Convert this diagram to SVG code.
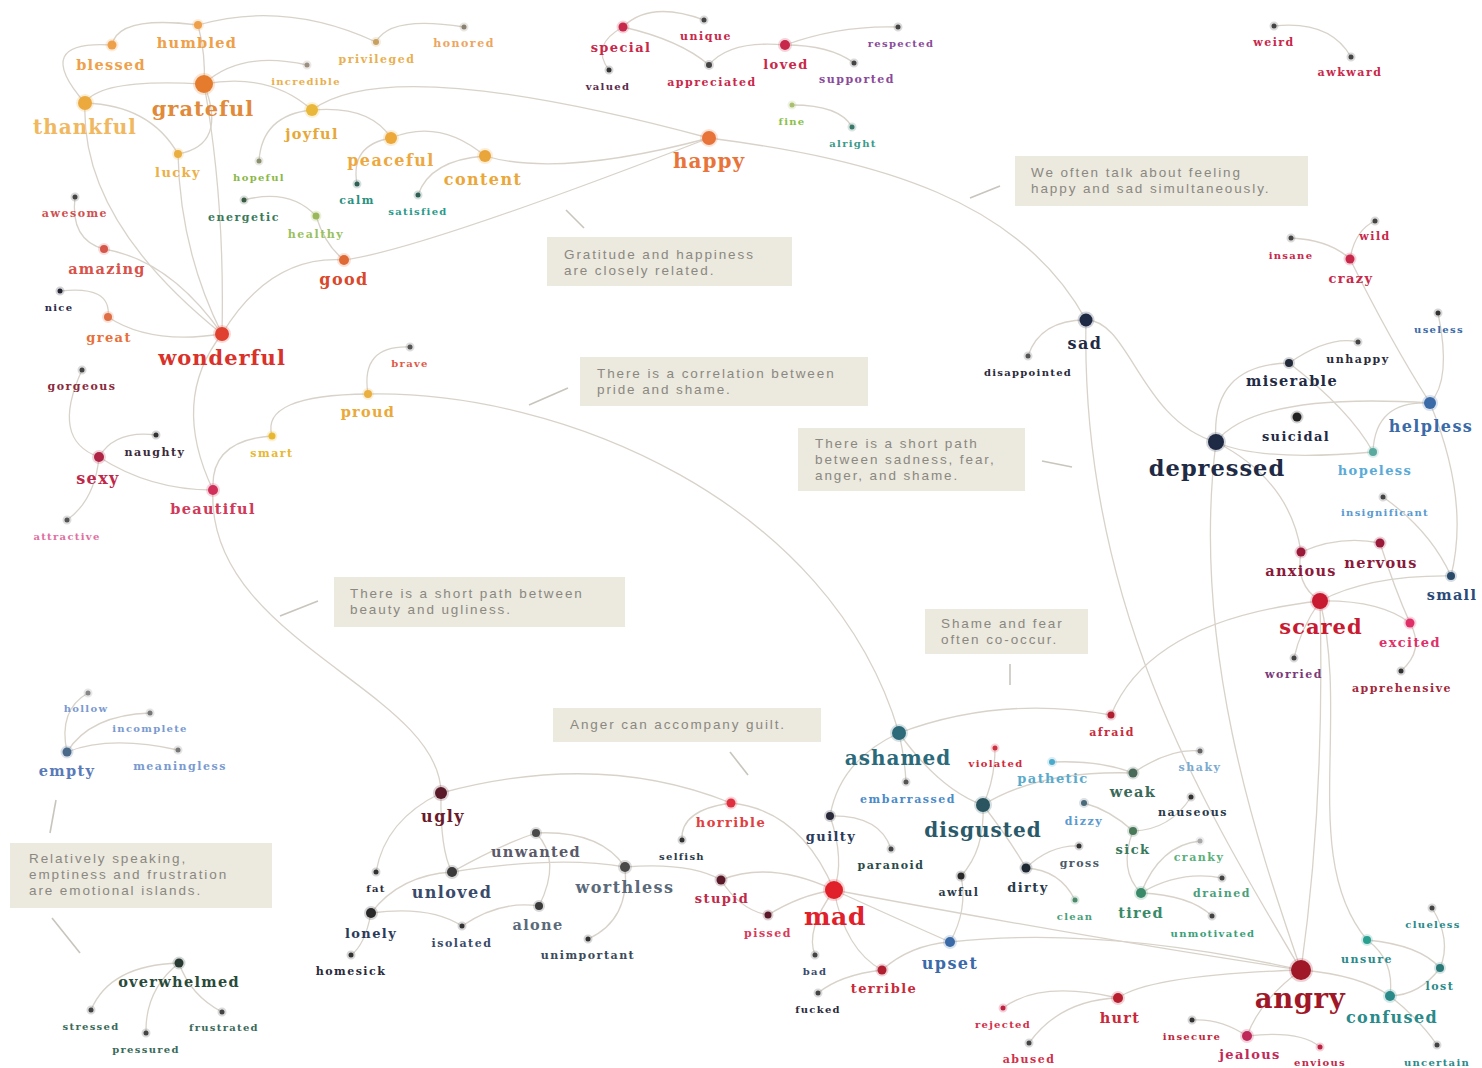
<svg xmlns="http://www.w3.org/2000/svg" width="1482" height="1068" viewBox="0 0 1482 1068">
<style>
.bg{fill:#ffffff}
#edges path{fill:none;stroke:#d8d2c9;stroke-width:1.3}
.lead{stroke:#c9c5bd;stroke-width:1.6;fill:none}
.d{fill:currentColor;stroke:currentColor;stroke-opacity:.2;stroke-width:4}
text{font-family:"DejaVu Serif","Liberation Serif",serif;font-weight:bold;text-anchor:middle}
.t{font-size:10px;letter-spacing:1.3px}
.s{font-size:11px;letter-spacing:1.5px}
.m{font-size:13px;letter-spacing:1.4px}
.k{font-size:14.5px;letter-spacing:1.3px}
.L{font-size:16px;letter-spacing:1.4px}
.X{font-size:20px;letter-spacing:1px}
.XX{font-size:25px;letter-spacing:.6px}
.note rect{fill:#ece9df}
.note text{font-family:"Liberation Sans","Open Sans",sans-serif;font-weight:normal;font-size:13.5px;letter-spacing:1.9px;fill:#8a8880;text-anchor:start}
</style>
<rect class="bg" x="0" y="0" width="1482" height="1068"/>
<g id="edges">
<path d="M112,45 Q118,15 198,25"/>
<path d="M112,45 Q30,40 85,103"/>
<path d="M198,25 Q206,55 204,84"/>
<path d="M198,25 Q285,0 376,42"/>
<path d="M376,42 Q390,15 464,27"/>
<path d="M204,84 Q240,50 307,65"/>
<path d="M85,103 Q100,78 204,84"/>
<path d="M204,84 Q228,145 178,154"/>
<path d="M85,103 Q150,105 178,154"/>
<path d="M204,84 Q270,72 312,110"/>
<path d="M312,110 Q390,52 709,138"/>
<path d="M312,110 Q262,115 259,161"/>
<path d="M312,110 Q370,105 391,138"/>
<path d="M391,138 Q440,118 485,156"/>
<path d="M391,138 Q350,145 357,184"/>
<path d="M485,156 Q430,160 418,195"/>
<path d="M485,156 Q560,178 709,138"/>
<path d="M344,260 Q420,250 709,138"/>
<path d="M244,200 Q290,188 316,216"/>
<path d="M316,216 Q325,245 344,260"/>
<path d="M344,260 Q270,255 222,334"/>
<path d="M85,103 Q80,220 222,334"/>
<path d="M178,154 Q180,250 222,334"/>
<path d="M204,84 Q225,200 222,334"/>
<path d="M75,197 Q70,240 104,249"/>
<path d="M104,249 Q170,260 222,334"/>
<path d="M60,291 Q112,285 108,317"/>
<path d="M108,317 Q150,345 222,334"/>
<path d="M222,334 Q170,400 213,490"/>
<path d="M82,370 Q50,440 99,457"/>
<path d="M99,457 Q115,430 156,435"/>
<path d="M99,457 Q150,490 213,490"/>
<path d="M99,457 Q95,500 67,520"/>
<path d="M213,490 Q210,440 272,436"/>
<path d="M272,436 Q260,395 368,394"/>
<path d="M368,394 Q360,345 410,347"/>
<path d="M368,394 C560,390 830,500 899,733"/>
<path d="M213,490 C205,640 440,690 441,793"/>
<path d="M623,27 Q650,0 704,20"/>
<path d="M623,27 Q590,45 609,70"/>
<path d="M623,27 Q680,40 709,65"/>
<path d="M709,65 Q730,40 785,45"/>
<path d="M785,45 Q840,25 898,27"/>
<path d="M785,45 Q830,45 854,63"/>
<path d="M792,105 Q840,105 852,127"/>
<path d="M709,138 C880,160 1020,200 1086,320"/>
<path d="M1274,26 Q1330,20 1351,57"/>
<path d="M1291,238 Q1330,240 1350,259"/>
<path d="M1375,221 Q1355,230 1350,259"/>
<path d="M1350,259 Q1390,340 1430,403"/>
<path d="M1086,320 Q1040,320 1028,356"/>
<path d="M1086,320 C1130,320 1140,420 1216,442"/>
<path d="M1086,320 C1080,600 1200,800 1301,970"/>
<path d="M1216,442 Q1210,365 1289,363"/>
<path d="M1289,363 Q1330,335 1358,342"/>
<path d="M1289,363 Q1350,410 1373,452"/>
<path d="M1216,442 Q1255,392 1430,403"/>
<path d="M1216,442 Q1260,462 1373,452"/>
<path d="M1438,313 Q1452,380 1430,403"/>
<path d="M1430,403 Q1375,400 1373,452"/>
<path d="M1430,403 Q1470,500 1451,576"/>
<path d="M1383,497 Q1430,530 1451,576"/>
<path d="M1216,442 Q1290,480 1301,552"/>
<path d="M1216,442 C1190,650 1260,850 1301,970"/>
<path d="M1301,552 Q1340,535 1380,543"/>
<path d="M1301,552 Q1295,585 1320,601"/>
<path d="M1380,543 Q1395,590 1410,623"/>
<path d="M1320,601 Q1370,575 1451,576"/>
<path d="M1320,601 Q1380,600 1410,623"/>
<path d="M1320,601 Q1300,630 1294,658"/>
<path d="M1410,623 Q1425,650 1401,671"/>
<path d="M1320,601 Q1150,620 1111,715"/>
<path d="M1320,601 Q1325,800 1301,970"/>
<path d="M1320,601 C1350,720 1300,860 1367,940"/>
<path d="M1367,940 Q1420,945 1440,968"/>
<path d="M1432,908 Q1452,940 1440,968"/>
<path d="M1440,968 Q1420,995 1390,996"/>
<path d="M1367,940 Q1395,960 1390,996"/>
<path d="M1301,970 Q1360,975 1390,996"/>
<path d="M1390,996 Q1420,1020 1437,1045"/>
<path d="M1301,970 Q1150,975 1118,998"/>
<path d="M1118,998 Q1040,980 1003,1008"/>
<path d="M1118,998 Q1060,1000 1029,1043"/>
<path d="M1301,970 Q1260,1000 1247,1036"/>
<path d="M1247,1036 Q1220,1018 1192,1020"/>
<path d="M1247,1036 Q1300,1030 1320,1047"/>
<path d="M834,890 Q1100,940 1301,970"/>
<path d="M950,942 Q1100,925 1301,970"/>
<path d="M441,793 Q385,820 376,872"/>
<path d="M441,793 Q440,850 452,872"/>
<path d="M441,793 Q600,750 731,803"/>
<path d="M452,872 Q400,875 371,913"/>
<path d="M452,872 Q500,845 536,833"/>
<path d="M452,872 Q560,855 625,867"/>
<path d="M371,913 Q365,945 351,955"/>
<path d="M371,913 Q430,905 462,926"/>
<path d="M462,926 Q500,900 539,906"/>
<path d="M539,906 Q562,860 536,833"/>
<path d="M536,833 Q600,830 625,867"/>
<path d="M625,867 Q630,920 588,939"/>
<path d="M625,867 Q690,862 721,880"/>
<path d="M721,880 Q770,860 834,890"/>
<path d="M721,880 Q740,910 768,915"/>
<path d="M768,915 Q800,895 834,890"/>
<path d="M731,803 Q680,810 682,840"/>
<path d="M731,803 Q800,810 834,890"/>
<path d="M830,816 Q845,860 834,890"/>
<path d="M830,816 Q880,815 891,849"/>
<path d="M830,816 Q840,760 899,733"/>
<path d="M834,890 Q805,930 815,955"/>
<path d="M834,890 Q845,950 882,970"/>
<path d="M834,890 Q900,920 950,942"/>
<path d="M882,970 Q840,975 818,993"/>
<path d="M882,970 Q910,945 950,942"/>
<path d="M950,942 Q968,910 961,876"/>
<path d="M961,876 Q985,850 983,805"/>
<path d="M899,733 Q905,760 906,782"/>
<path d="M899,733 Q940,790 983,805"/>
<path d="M899,733 Q1000,695 1111,715"/>
<path d="M995,748 Q995,780 983,805"/>
<path d="M1052,762 Q1100,760 1133,773"/>
<path d="M1133,773 Q1170,748 1200,751"/>
<path d="M1133,773 Q1040,770 983,805"/>
<path d="M1084,803 Q1110,810 1133,831"/>
<path d="M1133,831 Q1170,830 1191,797"/>
<path d="M1133,831 Q1118,870 1141,893"/>
<path d="M983,805 Q1010,840 1026,868"/>
<path d="M1026,868 Q1050,845 1079,846"/>
<path d="M1026,868 Q1060,870 1075,900"/>
<path d="M1141,893 Q1160,845 1200,841"/>
<path d="M1141,893 Q1180,870 1222,878"/>
<path d="M1141,893 Q1190,895 1212,916"/>
<path d="M67,752 Q58,710 88,693"/>
<path d="M67,752 Q90,715 150,713"/>
<path d="M67,752 Q110,735 178,750"/>
<path d="M179,963 Q110,965 91,1010"/>
<path d="M179,963 Q145,990 146,1033"/>
<path d="M179,963 Q190,995 222,1012"/>
</g>
<g id="notes">
<g class="note" id="note-gratitude"><line class="lead" x1="566" y1="210" x2="584" y2="228"/><rect x="547" y="237" width="245" height="49"/><text x="564" y="259">Gratitude and happiness</text><text x="564" y="275">are closely related.</text></g>
<g class="note" id="note-happysad"><line class="lead" x1="970" y1="198" x2="1000" y2="186"/><rect x="1015" y="156" width="293" height="50"/><text x="1031" y="177">We often talk about feeling</text><text x="1031" y="193">happy and sad simultaneously.</text></g>
<g class="note" id="note-pride"><line class="lead" x1="529" y1="405" x2="568" y2="388"/><rect x="580" y="357" width="288" height="49"/><text x="597" y="378">There is a correlation between</text><text x="597" y="394">pride and shame.</text></g>
<g class="note" id="note-path"><line class="lead" x1="1042" y1="461" x2="1072" y2="467"/><rect x="798" y="428" width="227" height="63"/><text x="815" y="448">There is a short path</text><text x="815" y="464">between sadness, fear,</text><text x="815" y="480">anger, and shame.</text></g>
<g class="note" id="note-beauty"><line class="lead" x1="280" y1="616" x2="318" y2="601"/><rect x="334" y="577" width="291" height="50"/><text x="350" y="598">There is a short path between</text><text x="350" y="614">beauty and ugliness.</text></g>
<g class="note" id="note-shamefear"><line class="lead" x1="1010" y1="664" x2="1010" y2="685"/><rect x="925" y="609" width="163" height="45"/><text x="941" y="628">Shame and fear</text><text x="941" y="644">often co-occur.</text></g>
<g class="note" id="note-anger"><line class="lead" x1="730" y1="752" x2="748" y2="775"/><rect x="553" y="708" width="268" height="34"/><text x="570" y="729">Anger can accompany guilt.</text></g>
<g class="note" id="note-islands"><line class="lead" x1="56" y1="800" x2="50" y2="833"/><line class="lead" x1="52" y1="918" x2="80" y2="953"/><rect x="10" y="843" width="262" height="65"/><text x="29" y="863">Relatively speaking,</text><text x="29" y="879">emptiness and frustration</text><text x="29" y="895">are emotional islands.</text></g>
</g>
<g id="nodes">
<g id="n-humbled"><circle class="d" color="#eea04a" cx="198" cy="25" r="4"/><text class="k" x="197" y="48" fill="#eea04a">humbled</text></g>
<g id="n-blessed"><circle class="d" color="#eea04a" cx="112" cy="45" r="4.5"/><text class="k" x="111" y="70" fill="#eea04a">blessed</text></g>
<g id="n-privileged"><circle class="d" color="#c8a060" cx="376" cy="42" r="3"/><text class="s" x="377" y="63" fill="#e9b050">privileged</text></g>
<g id="n-honored"><circle class="d" color="#8a8070" cx="464" cy="27" r="2.5"/><text class="s" x="464" y="47" fill="#eda560">honored</text></g>
<g id="n-incredible"><circle class="d" color="#9a9080" cx="307" cy="65" r="2.5"/><text class="t" x="306" y="85" fill="#e9b050">incredible</text></g>
<g id="n-grateful"><circle class="d" color="#e57b2d" cx="204" cy="84" r="9"/><text class="X" x="203" y="116" fill="#e08a3a" style="font-size:21px">grateful</text></g>
<g id="n-thankful"><circle class="d" color="#ecaa3e" cx="85" cy="103" r="7"/><text class="X" x="85" y="134" fill="#f0b860">thankful</text></g>
<g id="n-lucky"><circle class="d" color="#e9b040" cx="178" cy="154" r="4"/><text class="m" x="178" y="177" fill="#ecb048">lucky</text></g>
<g id="n-joyful"><circle class="d" color="#e9b83a" cx="312" cy="110" r="6"/><text class="k" x="312" y="139" fill="#e6a838">joyful</text></g>
<g id="n-hopeful"><circle class="d" color="#8a9070" cx="259" cy="161" r="2.5"/><text class="t" x="259" y="181" fill="#8ab848">hopeful</text></g>
<g id="n-peaceful"><circle class="d" color="#eda83a" cx="391" cy="138" r="6"/><text class="L" x="391" y="166" fill="#eda840">peaceful</text></g>
<g id="n-content"><circle class="d" color="#e9a63a" cx="485" cy="156" r="6"/><text class="L" x="483" y="185" fill="#eaa73a">content</text></g>
<g id="n-calm"><circle class="d" color="#2f5f55" cx="357" cy="184" r="2.5"/><text class="s" x="357" y="204" fill="#2a9080">calm</text></g>
<g id="n-satisfied"><circle class="d" color="#2f5f55" cx="418" cy="195" r="2.5"/><text class="t" x="418" y="215" fill="#2a9a8a">satisfied</text></g>
<g id="n-energetic"><circle class="d" color="#3a5a44" cx="244" cy="200" r="2.5"/><text class="s" x="244" y="221" fill="#3a7a5a">energetic</text></g>
<g id="n-healthy"><circle class="d" color="#9ab85a" cx="316" cy="216" r="3.5"/><text class="s" x="316" y="238" fill="#9ac060">healthy</text></g>
<g id="n-good"><circle class="d" color="#e06a35" cx="344" cy="260" r="5"/><text class="L" x="344" y="285" fill="#d9482a">good</text></g>
<g id="n-awesome"><circle class="d" color="#444444" cx="75" cy="197" r="2.5"/><text class="s" x="75" y="217" fill="#d05050">awesome</text></g>
<g id="n-amazing"><circle class="d" color="#d8574a" cx="104" cy="249" r="4"/><text class="k" x="107" y="274" fill="#d8524a">amazing</text></g>
<g id="n-nice"><circle class="d" color="#222233" cx="60" cy="291" r="2.5"/><text class="t" x="59" y="311" fill="#2a2a4a">nice</text></g>
<g id="n-great"><circle class="d" color="#e07045" cx="108" cy="317" r="4"/><text class="m" x="109" y="342" fill="#e8703a">great</text></g>
<g id="n-wonderful"><circle class="d" color="#e0402f" cx="222" cy="334" r="7"/><text class="X" x="222" y="365" fill="#d8322a" style="font-size:21px">wonderful</text></g>
<g id="n-gorgeous"><circle class="d" color="#444444" cx="82" cy="370" r="2.5"/><text class="s" x="82" y="390" fill="#8a2a3a">gorgeous</text></g>
<g id="n-naughty"><circle class="d" color="#333333" cx="156" cy="435" r="2.5"/><text class="s" x="155" y="456" fill="#3a2a3a">naughty</text></g>
<g id="n-sexy"><circle class="d" color="#b02545" cx="99" cy="457" r="5"/><text class="L" x="98" y="484" fill="#c0284a">sexy</text></g>
<g id="n-beautiful"><circle class="d" color="#d0305a" cx="213" cy="490" r="5"/><text class="k" x="213" y="514" fill="#d03a5a">beautiful</text></g>
<g id="n-attractive"><circle class="d" color="#555555" cx="67" cy="520" r="2.5"/><text class="t" x="67" y="540" fill="#e070a0">attractive</text></g>
<g id="n-brave"><circle class="d" color="#555555" cx="410" cy="347" r="2.5"/><text class="t" x="410" y="367" fill="#e05a4a">brave</text></g>
<g id="n-proud"><circle class="d" color="#eab040" cx="368" cy="394" r="4"/><text class="k" x="368" y="417" fill="#eaaa3a">proud</text></g>
<g id="n-smart"><circle class="d" color="#e8b830" cx="272" cy="436" r="3.5"/><text class="s" x="272" y="457" fill="#e8b830">smart</text></g>
<g id="n-special"><circle class="d" color="#c8284a" cx="623" cy="27" r="4.5"/><text class="m" x="621" y="52" fill="#c8284a">special</text></g>
<g id="n-unique"><circle class="d" color="#444444" cx="704" cy="20" r="2.5"/><text class="s" x="706" y="40" fill="#c8284a">unique</text></g>
<g id="n-valued"><circle class="d" color="#333333" cx="609" cy="70" r="2.5"/><text class="t" x="608" y="90" fill="#5a2a4a">valued</text></g>
<g id="n-appreciated"><circle class="d" color="#444444" cx="709" cy="65" r="3"/><text class="s" x="712" y="86" fill="#c8284a">appreciated</text></g>
<g id="n-loved"><circle class="d" color="#c8284a" cx="785" cy="45" r="5"/><text class="m" x="786" y="69" fill="#c8284a">loved</text></g>
<g id="n-respected"><circle class="d" color="#444444" cx="898" cy="27" r="2.5"/><text class="t" x="901" y="47" fill="#8a4a9a">respected</text></g>
<g id="n-supported"><circle class="d" color="#444444" cx="854" cy="63" r="2.5"/><text class="s" x="857" y="83" fill="#8a4a9a">supported</text></g>
<g id="n-fine"><circle class="d" color="#aac070" cx="792" cy="105" r="2.5"/><text class="t" x="792" y="125" fill="#8cc04a">fine</text></g>
<g id="n-alright"><circle class="d" color="#3a7a6a" cx="852" cy="127" r="2.5"/><text class="t" x="853" y="147" fill="#3a9a8a">alright</text></g>
<g id="n-happy"><circle class="d" color="#e8743a" cx="709" cy="138" r="7"/><text class="X" x="709" y="168" fill="#e8743a">happy</text></g>
<g id="n-weird"><circle class="d" color="#444444" cx="1274" cy="26" r="2.5"/><text class="s" x="1274" y="46" fill="#c8284a">weird</text></g>
<g id="n-awkward"><circle class="d" color="#444444" cx="1351" cy="57" r="2.5"/><text class="s" x="1350" y="76" fill="#c8284a">awkward</text></g>
<g id="n-insane"><circle class="d" color="#444444" cx="1291" cy="238" r="2.5"/><text class="t" x="1291" y="259" fill="#c8284a">insane</text></g>
<g id="n-wild"><circle class="d" color="#444444" cx="1375" cy="221" r="2.5"/><text class="s" x="1375" y="240" fill="#c8284a">wild</text></g>
<g id="n-crazy"><circle class="d" color="#c8284a" cx="1350" cy="259" r="4.5"/><text class="m" x="1351" y="283" fill="#c8284a">crazy</text></g>
<g id="n-sad"><circle class="d" color="#1f2a44" cx="1086" cy="320" r="6.5"/><text class="L" x="1085" y="349" fill="#1f2a44">sad</text></g>
<g id="n-disappointed"><circle class="d" color="#555555" cx="1028" cy="356" r="2.5"/><text class="t" x="1028" y="376" fill="#2a2a3a">disappointed</text></g>
<g id="n-miserable"><circle class="d" color="#222a3a" cx="1289" cy="363" r="4"/><text class="k" x="1292" y="386" fill="#1f2a44">miserable</text></g>
<g id="n-unhappy"><circle class="d" color="#444444" cx="1358" cy="342" r="2.5"/><text class="s" x="1358" y="363" fill="#2a2a3a">unhappy</text></g>
<g id="n-useless"><circle class="d" color="#333333" cx="1438" cy="313" r="2.5"/><text class="t" x="1439" y="333" fill="#3a6aa8">useless</text></g>
<g id="n-helpless"><circle class="d" color="#3a6aa8" cx="1430" cy="403" r="6"/><text class="L" x="1431" y="432" fill="#3a6aa8">helpless</text></g>
<g id="n-suicidal"><circle class="d" color="#222222" cx="1297" cy="417" r="4.5"/><text class="m" x="1296" y="441" fill="#1f2a44">suicidal</text></g>
<g id="n-depressed"><circle class="d" color="#1f2a44" cx="1216" cy="442" r="8"/><text class="X" x="1217" y="476" fill="#1f2a44" style="font-size:22.5px">depressed</text></g>
<g id="n-hopeless"><circle class="d" color="#5aaaa0" cx="1373" cy="452" r="4"/><text class="m" x="1375" y="475" fill="#5aaad8">hopeless</text></g>
<g id="n-insignificant"><circle class="d" color="#444444" cx="1383" cy="497" r="2.5"/><text class="t" x="1385" y="516" fill="#5a9ad0">insignificant</text></g>
<g id="n-anxious"><circle class="d" color="#9a1a3a" cx="1301" cy="552" r="4.5"/><text class="k" x="1301" y="576" fill="#8a1a3a">anxious</text></g>
<g id="n-nervous"><circle class="d" color="#9a1a3a" cx="1380" cy="543" r="4.5"/><text class="k" x="1381" y="568" fill="#8a1a3a">nervous</text></g>
<g id="n-small"><circle class="d" color="#2a4a6a" cx="1451" cy="576" r="4"/><text class="k" x="1452" y="600" fill="#2a4a7a">small</text></g>
<g id="n-scared"><circle class="d" color="#c81a30" cx="1320" cy="601" r="8"/><text class="X" x="1321" y="634" fill="#c81a30" style="font-size:21px">scared</text></g>
<g id="n-excited"><circle class="d" color="#e0306a" cx="1410" cy="623" r="4.5"/><text class="m" x="1410" y="647" fill="#e0306a">excited</text></g>
<g id="n-worried"><circle class="d" color="#444444" cx="1294" cy="658" r="2.5"/><text class="s" x="1294" y="678" fill="#7a3a7a">worried</text></g>
<g id="n-apprehensive"><circle class="d" color="#333333" cx="1401" cy="671" r="2.5"/><text class="s" x="1402" y="692" fill="#a0283a">apprehensive</text></g>
<g id="n-hollow"><circle class="d" color="#888888" cx="88" cy="693" r="2.5"/><text class="t" x="86" y="712" fill="#7a9ad0">hollow</text></g>
<g id="n-incomplete"><circle class="d" color="#777777" cx="150" cy="713" r="2.5"/><text class="t" x="150" y="732" fill="#7a9ad0">incomplete</text></g>
<g id="n-empty"><circle class="d" color="#4a6a8a" cx="67" cy="752" r="4.5"/><text class="k" x="67" y="776" fill="#5a7ab8">empty</text></g>
<g id="n-meaningless"><circle class="d" color="#777777" cx="178" cy="750" r="2.5"/><text class="s" x="180" y="770" fill="#7a9ad0">meaningless</text></g>
<g id="n-overwhelmed"><circle class="d" color="#2a3a34" cx="179" cy="963" r="4.5"/><text class="k" x="179" y="987" fill="#2a4a3a">overwhelmed</text></g>
<g id="n-stressed"><circle class="d" color="#444444" cx="91" cy="1010" r="2.5"/><text class="t" x="91" y="1030" fill="#3a6a5a">stressed</text></g>
<g id="n-pressured"><circle class="d" color="#444444" cx="146" cy="1033" r="2.5"/><text class="t" x="146" y="1053" fill="#3a6a5a">pressured</text></g>
<g id="n-frustrated"><circle class="d" color="#444444" cx="222" cy="1012" r="2.5"/><text class="t" x="224" y="1031" fill="#3a6a5a">frustrated</text></g>
<g id="n-ugly"><circle class="d" color="#5a1a2a" cx="441" cy="793" r="6"/><text class="L" x="443" y="822" fill="#6a1a2a">ugly</text></g>
<g id="n-fat"><circle class="d" color="#333333" cx="376" cy="872" r="2.5"/><text class="t" x="376" y="892" fill="#2a2a3a">fat</text></g>
<g id="n-unloved"><circle class="d" color="#3a3a3a" cx="452" cy="872" r="5"/><text class="L" x="452" y="898" fill="#3a4a6a">unloved</text></g>
<g id="n-unwanted"><circle class="d" color="#4a4a4a" cx="536" cy="833" r="4"/><text class="k" x="536" y="857" fill="#5a5a6a">unwanted</text></g>
<g id="n-lonely"><circle class="d" color="#2a2a2a" cx="371" cy="913" r="5"/><text class="m" x="371" y="938" fill="#2a3a5a">lonely</text></g>
<g id="n-homesick"><circle class="d" color="#333333" cx="351" cy="955" r="2.5"/><text class="s" x="351" y="975" fill="#2a2a3a">homesick</text></g>
<g id="n-isolated"><circle class="d" color="#333333" cx="462" cy="926" r="2.5"/><text class="s" x="462" y="947" fill="#3a4a6a">isolated</text></g>
<g id="n-alone"><circle class="d" color="#3a3a3a" cx="539" cy="906" r="4"/><text class="k" x="538" y="930" fill="#5a6a7a">alone</text></g>
<g id="n-worthless"><circle class="d" color="#4a4a4a" cx="625" cy="867" r="5"/><text class="L" x="625" y="893" fill="#5a6a7a">worthless</text></g>
<g id="n-unimportant"><circle class="d" color="#333333" cx="588" cy="939" r="2.5"/><text class="s" x="588" y="959" fill="#3a4a5a">unimportant</text></g>
<g id="n-horrible"><circle class="d" color="#e03040" cx="731" cy="803" r="4.5"/><text class="m" x="731" y="827" fill="#e04040">horrible</text></g>
<g id="n-selfish"><circle class="d" color="#333333" cx="682" cy="840" r="2.5"/><text class="t" x="682" y="860" fill="#2a3a4a">selfish</text></g>
<g id="n-stupid"><circle class="d" color="#5a1a2a" cx="721" cy="880" r="4.5"/><text class="m" x="722" y="903" fill="#c02a4a">stupid</text></g>
<g id="n-pissed"><circle class="d" color="#5a1a2a" cx="768" cy="915" r="3.5"/><text class="s" x="768" y="937" fill="#d83a5a">pissed</text></g>
<g id="n-mad"><circle class="d" color="#e0202a" cx="834" cy="890" r="9"/><text class="XX" x="835" y="925" fill="#e0202a">mad</text></g>
<g id="n-guilty"><circle class="d" color="#2a2a3a" cx="830" cy="816" r="4"/><text class="m" x="831" y="841" fill="#2a3a5a">guilty</text></g>
<g id="n-paranoid"><circle class="d" color="#444444" cx="891" cy="849" r="2.5"/><text class="s" x="891" y="869" fill="#2a4a4a">paranoid</text></g>
<g id="n-bad"><circle class="d" color="#444444" cx="815" cy="955" r="2.5"/><text class="t" x="815" y="975" fill="#3a4a6a">bad</text></g>
<g id="n-fucked"><circle class="d" color="#444444" cx="818" cy="993" r="2.5"/><text class="t" x="818" y="1013" fill="#2a2a3a">fucked</text></g>
<g id="n-terrible"><circle class="d" color="#b02030" cx="882" cy="970" r="4.5"/><text class="m" x="884" y="993" fill="#c82a3a">terrible</text></g>
<g id="n-upset"><circle class="d" color="#3a6aa8" cx="950" cy="942" r="5"/><text class="L" x="950" y="969" fill="#3a6aa8">upset</text></g>
<g id="n-awful"><circle class="d" color="#2a2a2a" cx="961" cy="876" r="3.5"/><text class="s" x="959" y="896" fill="#2a3a4a">awful</text></g>
<g id="n-ashamed"><circle class="d" color="#2d6b7a" cx="899" cy="733" r="7"/><text class="X" x="898" y="765" fill="#2a6a7a">ashamed</text></g>
<g id="n-embarrassed"><circle class="d" color="#555555" cx="906" cy="782" r="2.5"/><text class="s" x="908" y="803" fill="#4a8ac8">embarrassed</text></g>
<g id="n-violated"><circle class="d" color="#d03040" cx="995" cy="748" r="2.5"/><text class="t" x="996" y="767" fill="#d02a3a">violated</text></g>
<g id="n-pathetic"><circle class="d" color="#4aaacc" cx="1052" cy="762" r="3"/><text class="m" x="1053" y="783" fill="#5aaacc">pathetic</text></g>
<g id="n-weak"><circle class="d" color="#4a6a5a" cx="1133" cy="773" r="4.5"/><text class="k" x="1133" y="797" fill="#3a6a5a">weak</text></g>
<g id="n-shaky"><circle class="d" color="#666666" cx="1200" cy="751" r="2.5"/><text class="s" x="1200" y="771" fill="#7aaad0">shaky</text></g>
<g id="n-disgusted"><circle class="d" color="#2a5560" cx="983" cy="805" r="7"/><text class="X" x="983" y="837" fill="#2a5a6a">disgusted</text></g>
<g id="n-dizzy"><circle class="d" color="#4a6a7a" cx="1084" cy="803" r="3"/><text class="s" x="1084" y="825" fill="#5a9ad0">dizzy</text></g>
<g id="n-nauseous"><circle class="d" color="#333333" cx="1191" cy="797" r="2.5"/><text class="s" x="1193" y="816" fill="#2a3a4a">nauseous</text></g>
<g id="n-sick"><circle class="d" color="#4a7a5a" cx="1133" cy="831" r="4"/><text class="m" x="1133" y="854" fill="#3a7a5a">sick</text></g>
<g id="n-gross"><circle class="d" color="#333333" cx="1079" cy="846" r="2.5"/><text class="s" x="1080" y="867" fill="#4a5a6a">gross</text></g>
<g id="n-dirty"><circle class="d" color="#1f2a34" cx="1026" cy="868" r="4.5"/><text class="m" x="1028" y="892" fill="#2a3a4a">dirty</text></g>
<g id="n-clean"><circle class="d" color="#4a8a6a" cx="1075" cy="900" r="2.5"/><text class="t" x="1075" y="920" fill="#4aa07a">clean</text></g>
<g id="n-cranky"><circle class="d" color="#aaaaaa" cx="1200" cy="841" r="2.5"/><text class="s" x="1199" y="861" fill="#5ab07a">cranky</text></g>
<g id="n-drained"><circle class="d" color="#444444" cx="1222" cy="878" r="2.5"/><text class="s" x="1222" y="897" fill="#4aa07a">drained</text></g>
<g id="n-tired"><circle class="d" color="#3a8a6a" cx="1141" cy="893" r="5"/><text class="k" x="1141" y="918" fill="#3a8a6a">tired</text></g>
<g id="n-unmotivated"><circle class="d" color="#444444" cx="1212" cy="916" r="2.5"/><text class="t" x="1213" y="937" fill="#3aa07a">unmotivated</text></g>
<g id="n-afraid"><circle class="d" color="#b02030" cx="1111" cy="715" r="3.5"/><text class="s" x="1112" y="736" fill="#c82a3a">afraid</text></g>
<g id="n-angry"><circle class="d" color="#a01828" cx="1301" cy="970" r="10"/><text class="XX" x="1300" y="1008" fill="#a01828" style="font-size:27.5px">angry</text></g>
<g id="n-unsure"><circle class="d" color="#2aa090" cx="1367" cy="940" r="4"/><text class="s" x="1367" y="963" fill="#2a8a8a">unsure</text></g>
<g id="n-clueless"><circle class="d" color="#444444" cx="1432" cy="908" r="2.5"/><text class="t" x="1433" y="928" fill="#2a8a8a">clueless</text></g>
<g id="n-lost"><circle class="d" color="#2a7a7a" cx="1440" cy="968" r="4"/><text class="s" x="1440" y="990" fill="#2a8a8a">lost</text></g>
<g id="n-confused"><circle class="d" color="#2a8a8a" cx="1390" cy="996" r="5"/><text class="L" x="1392" y="1023" fill="#2a8a8a">confused</text></g>
<g id="n-uncertain"><circle class="d" color="#444444" cx="1437" cy="1045" r="2.5"/><text class="t" x="1437" y="1066" fill="#2a8a8a">uncertain</text></g>
<g id="n-hurt"><circle class="d" color="#b82030" cx="1118" cy="998" r="5"/><text class="k" x="1120" y="1023" fill="#c8283a">hurt</text></g>
<g id="n-rejected"><circle class="d" color="#c02040" cx="1003" cy="1008" r="2.5"/><text class="t" x="1003" y="1028" fill="#d0304a">rejected</text></g>
<g id="n-abused"><circle class="d" color="#444444" cx="1029" cy="1043" r="2.5"/><text class="s" x="1029" y="1063" fill="#d0304a">abused</text></g>
<g id="n-insecure"><circle class="d" color="#333333" cx="1192" cy="1020" r="2.5"/><text class="t" x="1192" y="1040" fill="#c0283a">insecure</text></g>
<g id="n-jealous"><circle class="d" color="#c02a5a" cx="1247" cy="1036" r="5"/><text class="m" x="1250" y="1059" fill="#c02a5a">jealous</text></g>
<g id="n-envious"><circle class="d" color="#c02040" cx="1320" cy="1047" r="2.5"/><text class="t" x="1320" y="1066" fill="#c0284a">envious</text></g>
</g>
</svg>
